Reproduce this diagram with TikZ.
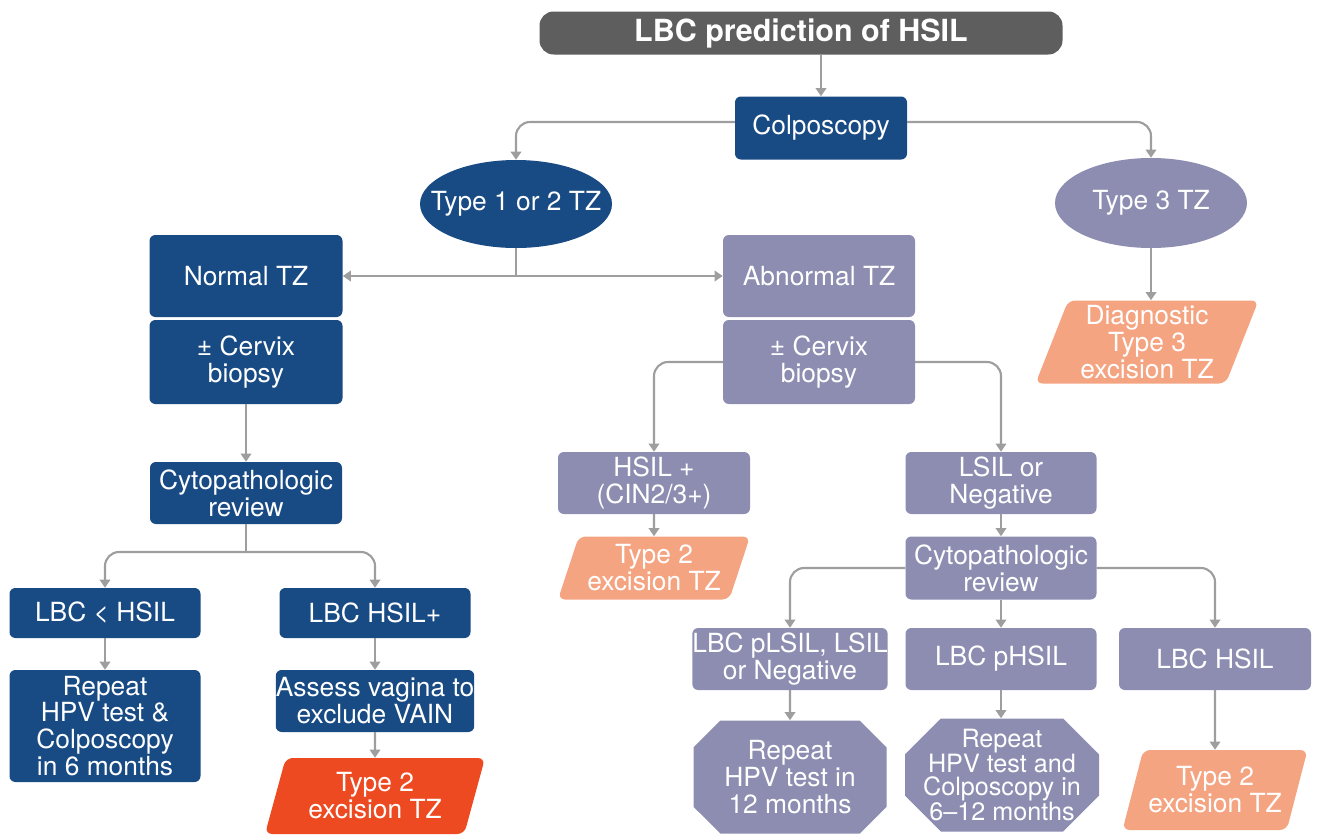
\documentclass[tikz,border=0pt]{standalone}
\usepackage{fontspec}
\setmainfont{TeX Gyre Heros}
\usetikzlibrary{shapes.geometric,shapes.misc,arrows.meta}
\definecolor{dblue}{RGB}{24,74,132}
\definecolor{lav}{RGB}{140,141,177}
\definecolor{salmon}{RGB}{245,164,130}
\definecolor{redor}{RGB}{238,74,34}
\definecolor{tgrey}{RGB}{94,94,94}
\definecolor{lgrey}{RGB}{158,158,158}

\begin{document}
\begin{tikzpicture}[x=0.03cm, y=-0.03cm,
  txt/.style={text=white, inner sep=0pt, align=center, font=\fontsize{22.5}{23}\selectfont},
  sz/.style 2 args={minimum width=#1*\px, minimum height=#2*\px},
  bluebox/.style={txt, rectangle, rounded corners=5pt, fill=dblue},
  lavbox/.style={txt, rectangle, rounded corners=5pt, fill=lav},
  oval/.style={txt, ellipse, inner xsep=-30*\px, inner ysep=-10*\px},
  slant/.style={txt, trapezium, trapezium left angle=66, trapezium right angle=114,
    trapezium stretches body, rounded corners=6pt},
  octa/.style={txt, chamfered rectangle, chamfered rectangle xsep=20*\px,
    chamfered rectangle ysep=20*\px, inner xsep=-14*\px, inner ysep=-30*\px, fill=lav},
  arr/.style={draw=lgrey, line width=1.8pt, -{Triangle[width=9pt,length=7pt]}},
  elb/.style={arr, rounded corners=12pt},
  ln/.style={draw=lgrey, line width=1.8pt}]
\def\px{0.03cm}
\useasboundingbox (0,0) rectangle (1319,837);

\node[txt, rectangle, rounded corners=12pt, fill=tgrey, sz={523}{43},
  font=\fontsize{26}{28}\selectfont\bfseries] at (801,33) (title) {LBC prediction of HSIL};
\node[bluebox, sz={172}{63}] at (821,128) (colp) {Colposcopy};
\node[oval, fill=dblue, sz={192}{88}] at (516,204) (t12) {Type 1 or 2 TZ};
\node[oval, fill=lav, sz={192}{90}] at (1151,203) (t3) {Type 3 TZ};
\node[slant, fill=salmon, sz={223}{83}] at (1147,342) (diag) {Diagnostic\\Type 3\\excision TZ};

\node[bluebox, sz={193}{82}] at (246,276) (normal) {Normal TZ};
\node[bluebox, sz={193}{84}] at (246,362) (ncerv) {± Cervix\\biopsy};
\node[lavbox, sz={192}{82}] at (819,276) (abn) {Abnormal TZ};
\node[lavbox, sz={192}{84}] at (819,362) (acerv) {± Cervix\\biopsy};

\node[bluebox, sz={192}{62}] at (246,493) (ncyto) {Cytopathologic\\review};
\node[bluebox, sz={191}{50}] at (105,613) (lbclow) {LBC \textless{} HSIL};
\node[bluebox, sz={191}{50}] at (375,613) (lbchigh) {LBC HSIL+};
\node[bluebox, sz={191}{112}] at (105,726) (rep6) {Repeat\\HPV test \&\\Colposcopy\\in 6 months};
\node[bluebox, sz={191}{62}] at (375,701) (assess) {Assess vagina to\\exclude VAIN};
\node[slant, fill=redor, sz={220}{76}] at (375,796) (exred) {Type 2\\excision TZ};

\node[lavbox, sz={192}{62}] at (654,483) (hsil) {HSIL +\\(CIN2/3+)};
\node[slant, fill=salmon, sz={192}{63}] at (654,568) (exa) {Type 2\\excision TZ};
\node[lavbox, sz={191}{62}] at (1001,483) (lsil) {LSIL or\\Negative};
\node[lavbox, sz={191}{63}] at (1001,568) (rcyto) {Cytopathologic\\review};

\node[lavbox, sz={192}{62}] at (790,659) (plsil) {LBC pLSIL, LSIL\\or Negative};
\node[lavbox, sz={191}{62}] at (1001,659) (phsil) {LBC pHSIL};
\node[lavbox, sz={192}{62}] at (1215,659) (lhsil) {LBC HSIL};
\node[octa, sz={193}{113}] at (790,777) (rep12) {Repeat\\HPV test in\\12 months};
\node[octa, sz={194}{113}, font=\fontsize{21.5}{19.5}\selectfont] at (1002,775) (rep612)
  {Repeat\\HPV test and\\Colposcopy in\\6--12 months};
\node[slant, fill=salmon, sz={185}{80}] at (1215,790) (exb) {Type 2\\excision TZ};

\path[arr] (title.south -| colp.north) -- (colp.north);
\draw[elb] ([yshift=6*\px]colp.west) -| (t12.north);
\draw[elb] ([yshift=6*\px]colp.east) -| (t3.north);
\path[arr] (t3.south) -- (t3.south |- diag.north);

\path[arr] (t12.south) |- (normal.east);
\path[arr] (t12.south) |- (abn.west);

\path[arr] (ncerv) -- (ncyto);
\coordinate (nsplit) at (246,552);
\path[ln] (ncyto) -- (nsplit);
\draw[elb] (nsplit) -| (lbclow.north);
\draw[elb] (nsplit) -| (lbchigh.north);
\path[arr] (lbclow) -- (rep6);
\path[arr] (lbchigh) -- (assess);
\path[arr] (assess) -- (exred);

\draw[elb] (acerv.west) -| (hsil.north);
\draw[elb] (acerv.east) -| (lsil.north);
\path[arr] (hsil) -- (exa);
\path[arr] (lsil) -- (rcyto);

\draw[elb] (rcyto.west) -| (plsil.north);
\path[arr] (rcyto) -- (phsil);
\draw[elb] (rcyto.east) -| (lhsil.north);
\path[arr] (plsil) -- (rep12);
\path[arr] (phsil.south) -- (phsil.south |- rep612.north);
\path[arr] (lhsil) -- (exb);

\end{tikzpicture}
\end{document}
